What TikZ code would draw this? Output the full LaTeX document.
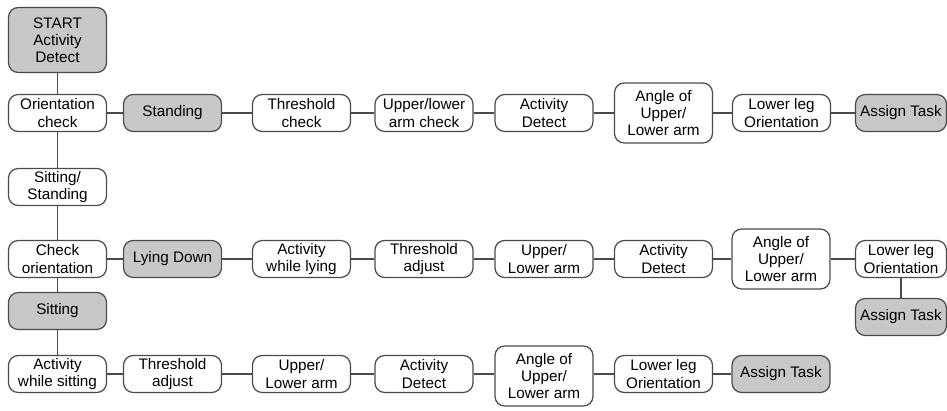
\documentclass[tikz,border=0pt]{standalone}
\usepackage{fontspec}
\setmainfont{Liberation Sans}
\usepackage{tikz}
\usetikzlibrary{positioning}
\definecolor{BoxGray}{RGB}{200,200,200}
\definecolor{LineGray}{RGB}{75,75,75}
\tikzset{
  box/.style={draw=LineGray,fill=white,line width=0.7pt,rounded corners=5.5pt,
    minimum width=1.96cm,minimum height=0.74cm,inner sep=1pt,align=center,
    font=\fontsize{8.7}{9.8}\selectfont},
  tall/.style={box,minimum height=1.2cm},
  grey/.style={fill=BoxGray},
  narrow/.style={minimum width=1.82cm},
  link/.style={draw=LineGray,line width=0.7pt},
}

\begin{document}
\begin{tikzpicture}[x=0.02cm,y=-0.02cm]
\useasboundingbox (0,0) rectangle (947,411);
\node[box,grey,minimum height=1.3cm] (start) at (57.5,40) {START\\Activity\\Detect};
\node[box] (ori) at (57.5,113) {Orientation\\check};
\node[box,grey] (stand) at (172.5,113) {Standing};
\node[box] (thrA) at (301.5,113) {Threshold\\check};
\node[box] (armA) at (424,113) {Upper/lower\\arm check};
\node[box] (actA) at (544,113) {Activity\\Detect};
\node[tall] (angA) at (663.5,113) {Angle of\\Upper/\\Lower arm};
\node[box] (legA) at (781.5,113) {Lower leg\\Orientation};
\node[box,grey,narrow] (taskA) at (901,113) {Assign Task};
\node[box] (sitstand) at (57.5,187) {Sitting/\\Standing};
\node[box] (chk) at (57.5,259) {Check\\orientation};
\node[box,grey] (lie) at (172.5,259) {Lying Down};
\node[box] (actlie) at (301.5,259) {Activity\\while lying};
\node[box] (thrB) at (424,259) {Threshold\\adjust};
\node[box] (armB) at (544,259) {Upper/\\Lower arm};
\node[box] (actB) at (663.5,259) {Activity\\Detect};
\node[tall] (angB) at (781,259) {Angle of\\Upper/\\Lower arm};
\node[box,narrow] (legB) at (901,259) {Lower leg\\Orientation};
\node[box,grey,narrow] (taskB) at (901,317) {Assign Task};
\node[box,grey] (sit) at (57.5,311) {Sitting};
\node[box] (actsit) at (57.5,374) {Activity\\while sitting};
\node[box] (thrC) at (172.5,374) {Threshold\\adjust};
\node[box] (armC) at (301.5,374) {Upper/\\Lower arm};
\node[box] (actC) at (424,374) {Activity\\Detect};
\node[tall] (angC) at (544,376) {Angle of\\Upper/\\Lower arm};
\node[box] (legC) at (663.5,374) {Lower leg\\Orientation};
\node[box,grey] (taskC) at (781,374) {Assign Task};
\draw[link] (start) -- (ori);
\draw[link] (ori) -- (stand);
\draw[link] (stand) -- (thrA);
\draw[link] (thrA) -- (armA);
\draw[link] (armA) -- (actA);
\draw[link] (actA) -- (angA);
\draw[link] (angA) -- (legA);
\draw[link] (legA) -- (taskA);
\draw[link] (ori) -- (sitstand);
\draw[link] (sitstand) -- (chk);
\draw[link] (chk) -- (lie);
\draw[link] (lie) -- (actlie);
\draw[link] (actlie) -- (thrB);
\draw[link] (thrB) -- (armB);
\draw[link] (armB) -- (actB);
\draw[link] (actB) -- (angB);
\draw[link] (angB) -- (legB);
\draw[link] (legB) -- (taskB);
\draw[link] (chk) -- (sit);
\draw[link] (sit) -- (actsit);
\draw[link] (actsit) -- (thrC);
\draw[link] (thrC) -- (armC);
\draw[link] (armC) -- (actC);
\draw[link] (actC) -- (angC.west |- actC);
\draw[link] (angC.east |- legC) -- (legC);
\draw[link] (legC) -- (taskC);
\end{tikzpicture}
\end{document}
